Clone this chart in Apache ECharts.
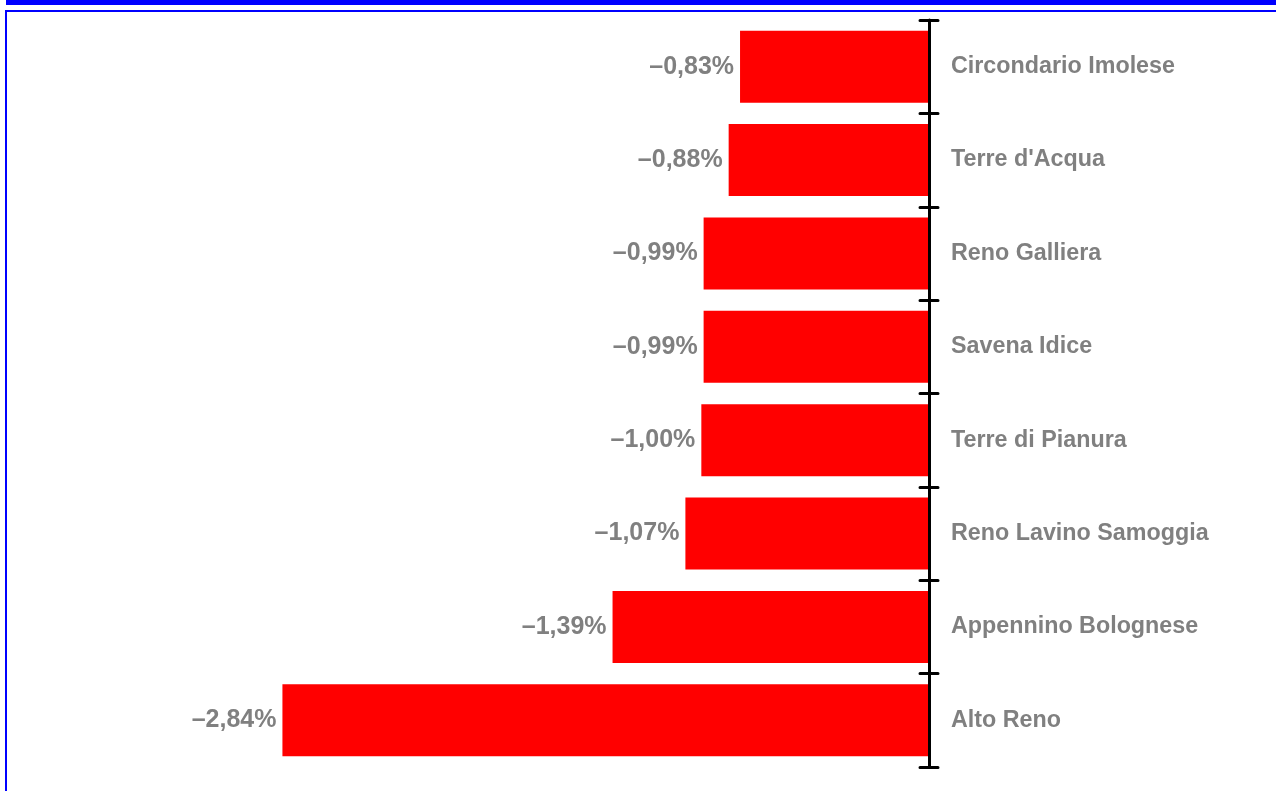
<!DOCTYPE html>
<html>
<head>
<meta charset="utf-8">
<title>Variazione percentuale per unione di comuni</title>
<script src="https://cdn.jsdelivr.net/npm/echarts@6/dist/echarts.min.js"></script>
<style>
  html, body { margin: 0; padding: 0; background: #ffffff; }
  #chart { width: 1276px; height: 791px; }
</style>
</head>
<body>
<div id="chart"></div>
<script>
// Unioni di comuni, dall'alto verso il basso
const categories = [
  'Circondario Imolese',
  "Terre d'Acqua",
  'Reno Galliera',
  'Savena Idice',
  'Terre di Pianura',
  'Reno Lavino Samoggia',
  'Appennino Bolognese',
  'Alto Reno'
];

// Variazione percentuale
const values = [-0.83, -0.88, -0.99, -0.99, -1.00, -1.07, -1.39, -2.84];

const labelGrey = '#808080';
const fontFamily = 'Arial, "Liberation Sans", sans-serif';

function formatPct(v) {
  const s = Math.abs(v).toFixed(2).replace('.', ',') + '%';
  return (v < 0 ? '\u2013' : '') + s;
}

const chart = echarts.init(document.getElementById('chart'), null, { renderer: 'canvas' });

chart.setOption({
  backgroundColor: '#ffffff',
  animation: false,
  grid: { left: 246, right: 347, top: 20, bottom: 24, containLabel: false },
  xAxis: {
    type: 'value',
    min: -3,
    max: 0,
    show: false
  },
  yAxis: [
    {
      type: 'category',
      data: categories,
      inverse: true,
      position: 'right',
      z: 10,
      axisLine: { show: true, lineStyle: { color: '#000000', width: 3 } },
      axisTick: { show: true, inside: false, length: 9, lineStyle: { color: '#000000', width: 3, cap: 'round' } },
      axisLabel: {
        margin: 22,
        color: labelGrey,
        fontFamily: fontFamily,
        fontWeight: 'bold',
        fontSize: 23.3
      },
      splitLine: { show: false }
    },
    {
      // second copy of the same axis: tick marks on the inner side
      type: 'category',
      data: categories,
      inverse: true,
      position: 'right',
      z: 10,
      axisLine: { show: false },
      axisTick: { show: true, inside: true, length: 9, lineStyle: { color: '#000000', width: 3, cap: 'round' } },
      axisLabel: { show: false },
      splitLine: { show: false }
    }
  ],
  series: [
    {
      type: 'bar',
      data: values,
      yAxisIndex: 0,
      barWidth: 72,
      itemStyle: { color: '#ff0000' },
      label: {
        show: true,
        position: 'left',
        distance: 6,
        color: labelGrey,
        fontFamily: fontFamily,
        fontWeight: 'bold',
        fontSize: 25,
        formatter: (p) => formatPct(p.value)
      }
    }
  ],
  graphic: [
    {
      type: 'rect',
      silent: true,
      z: 100,
      shape: { x: 6, y: 0, width: 1280, height: 5 },
      style: { fill: '#0000ff' }
    },
    {
      type: 'rect',
      silent: true,
      z: 100,
      shape: { x: 6, y: 11, width: 1290, height: 800 },
      style: { fill: 'none', stroke: '#0000ff', lineWidth: 2 }
    }
  ]
});
</script>
</body>
</html>
